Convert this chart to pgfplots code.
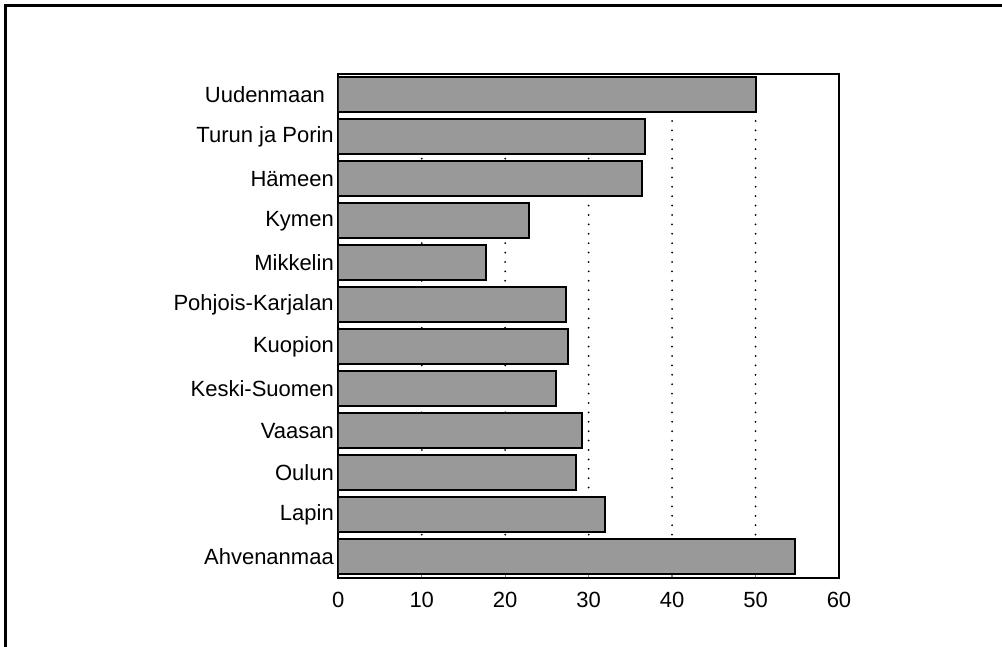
\documentclass[border=0pt]{standalone}
\usepackage{fontspec}
\setmainfont{Liberation Sans}
\usepackage{pgfplots}
\pgfplotsset{compat=1.18}
\definecolor{barfill}{gray}{0.6}
\begin{document}
\begin{tikzpicture}[x=1pt,y=1pt]
\path[use as bounding box] (0,0) rectangle (1002,647);
\draw[line width=2.5pt] (5.5,0) -- (5.5,641.5) -- (1002,641.5);
\begin{axis}[
  at={(338.3pt,69.3pt)}, anchor=south west,
  scale only axis, width=500.7pt, height=503.7pt,
  xmin=0, xmax=60, xtick={0,10,...,60},
  ymin=-0.5, ymax=11.5, y dir=reverse,
  ytick={0,...,11},
  yticklabels={Uudenmaan\hspace*{9pt}, Turun ja Porin, Hämeen, Kymen, Mikkelin, Pohjois-Karjalan, Kuopion, Keski-Suomen, Vaasan, Oulun, Lapin, Ahvenanmaa},
  xbar, bar width=35pt,
  xmajorgrids,
  grid style={black, line width=2pt, line cap=round, dash pattern=on 0pt off 9.4pt},
  axis line style={line width=1.8pt},
  xtick pos=bottom, ytick style={draw=none},
  tick align=inside, major tick length=4pt, xtick style={line width=1.2pt},
  every tick label/.append style={font=\fontsize{22}{26}\selectfont},
  xticklabel style={yshift=-11pt},
  yticklabel style={xshift=-1pt},
  /pgf/number format/assume math mode=true,
]
\addplot[fill=barfill, draw=black, line width=2pt] coordinates {
  (50.1,0) (36.8,1) (36.4,2) (22.85,3) (17.7,4) (27.3,5)
  (27.5,6) (26.05,7) (29.25,8) (28.5,9) (32.0,10) (54.7,11)
};
\end{axis}
\end{tikzpicture}
\end{document}
